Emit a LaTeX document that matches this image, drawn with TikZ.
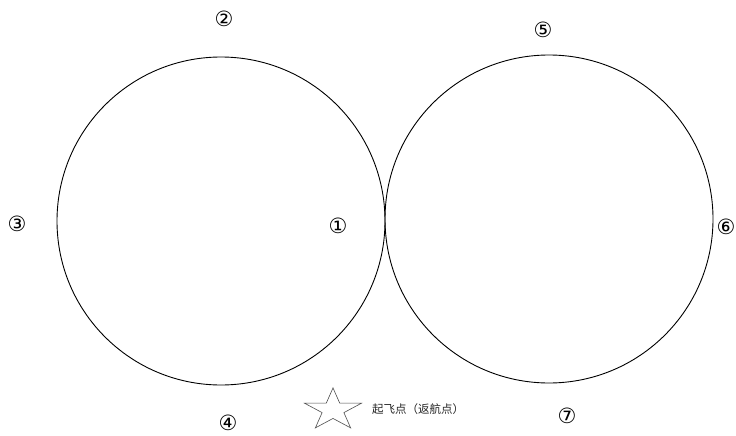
\documentclass[tikz,border=0pt]{standalone}
\usepackage{fontspec}
\newfontfamily\symfont{DejaVu Sans}
\newfontfamily\cjk{Noto Sans CJK SC}
\begin{document}
\begin{tikzpicture}[x=1pt,y=-1pt,
  ring/.style={draw=black, line width=0.9pt},
  num/.style={font=\symfont\fontsize{21}{21}\selectfont, inner sep=0pt, text=black},
  lbl/.style={font=\cjk\fontsize{11.5}{11.5}\selectfont, inner sep=0pt, anchor=west, text=black!85}]
\useasboundingbox (0,0) rectangle (736,436);
\fill[white] (0,0) rectangle (736,436);
\node[ring, circle, minimum size=328pt, inner sep=0pt] (c1) at (221,221) {};
\node[ring, circle, minimum size=328pt, inner sep=0pt] (c2) at (549,219) {};
\node[num] (n1) at (338,226) {①};
\node[num] (n2) at (224,19) {②};
\node[num] (n3) at (17,224) {③};
\node[num] (n4) at (228,423) {④};
\node[num] (n5) at (543,30) {⑤};
\node[num] (n6) at (726,227) {⑥};
\node[num] (n7) at (567,416) {⑦};
\coordinate (st) at (333,410);
\draw[black!70, line width=0.6pt, shift={(st)}, xscale=30.0, yscale=-22.1]
  (90:1) -- (126:0.382) -- (162:1) -- (198:0.382) -- (234:1) -- (270:0.382)
  -- (306:1) -- (342:0.382) -- (18:1) -- (54:0.382) -- cycle;
\node[lbl] (t) at (372,409) {起飞点（返航点）};
\end{tikzpicture}
\end{document}
